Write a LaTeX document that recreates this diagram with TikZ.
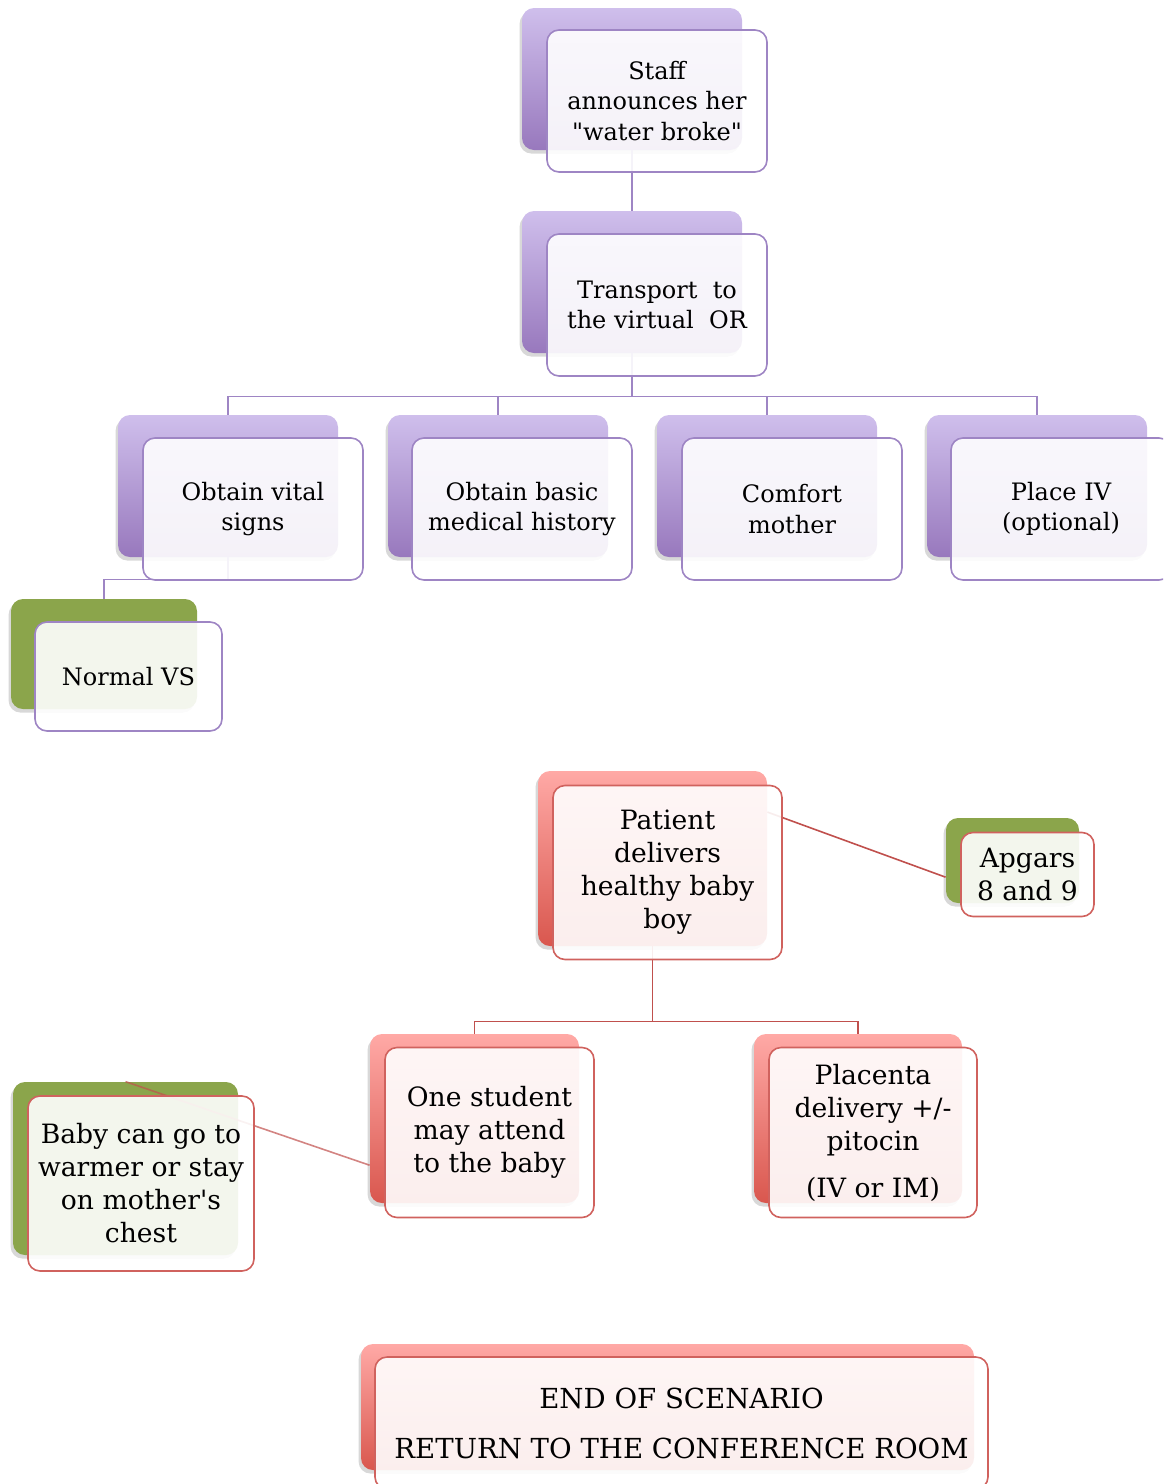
\documentclass[tikz,border=0pt]{standalone}
\usepackage{fontspec}
\setmainfont{DejaVu Serif}[Ligatures=TeXOff]
\usetikzlibrary{calc,shadows}

\definecolor{pTop}{HTML}{CFBFEC}
\definecolor{pBot}{HTML}{9878BD}
\definecolor{pLine}{HTML}{9E85C4}
\definecolor{rTop}{HTML}{FFA9A6}
\definecolor{rBot}{HTML}{D9574E}
\definecolor{rLine}{HTML}{D0625E}
\definecolor{rWire}{HTML}{C0504D}
\definecolor{gFill}{HTML}{8BA54B}

\newcommand{\topfont}{\fontsize{12}{15.25}\selectfont}
\newcommand{\lowfont}{\fontsize{13.3}{16.5}\selectfont}
\newcommand{\lastfont}{\fontsize{13.8}{17}\selectfont}

\tikzset{
  backbox/.style={rounded corners=6pt, draw=none, inner sep=0pt,
    drop shadow={shadow xshift=-1.2pt, shadow yshift=-1.8pt, opacity=.22, fill=black!70}},
  pback/.style={backbox, top color=pTop, bottom color=pBot},
  rback/.style={backbox, top color=rTop, bottom color=rBot},
  gback/.style={backbox, fill=gFill},
  frontbox/.style={rounded corners=6pt, fill=white, fill opacity=.9, text opacity=1,
    line width=.8pt, align=center, inner sep=0pt},
  pfront/.style={frontbox, draw=pLine, font=\topfont},
  rfront/.style={frontbox, draw=rLine, font=\lowfont},
  pwire/.style={draw=pLine, line width=.8pt},
  rwire/.style={draw=rWire, line width=.8pt},
  tall/.style={minimum width=110pt, minimum height=71pt}
}

\begin{document}
\begin{tikzpicture}[x=0.5pt, y=-0.5pt]
\useasboundingbox (0,0) rectangle (1163,1484);
\clip (0,0) rectangle (1163,1484);

% back boxes, upper part
\node[pback, tall] (staffb) at (632,79) {};
\node[pback, tall] (transb) at (632,282) {};
\node[pback, tall] (vitalb) at (228,486) {};
\node[pback, tall] (histb) at (498,486) {};
\node[pback, tall] (comfb) at (767,486) {};
\node[pback, tall] (ivb) at (1037,486) {};
\node[gback, minimum width=93pt, minimum height=55pt] (normb) at (104,654) {};

% back boxes, lower part
\node[rback, minimum width=114.5pt, minimum height=87.5pt] (patb) at (652.5,858.5) {};
\node[gback, minimum width=66.5pt, minimum height=42.5pt] (apgb) at (1012.5,860.5) {};
\node[rback, minimum width=104.5pt, minimum height=84.5pt] (studb) at (474.5,1118.5) {};
\node[rback, minimum width=104pt, minimum height=84.5pt] (placb) at (858,1118.5) {};
\node[gback, minimum width=112.5pt, minimum height=86.5pt] (babyb) at (125.5,1168.5) {};
\node[rback, minimum width=306.5pt, minimum height=63pt] (endb) at (667.5,1407) {};

% connectors
\draw[pwire] (staffb.south) -- (transb.north);
\draw[pwire] (transb.south) -- ++(0,43) -| (vitalb.north);
\draw[pwire] (transb.south) -- ++(0,43) -| (histb.north);
\draw[pwire] (transb.south) -- ++(0,43) -| (comfb.north);
\draw[pwire] (transb.south) -- ++(0,43) -| (ivb.north);
\draw[pwire] (vitalb.south) -- ++(0,22) -| (normb.north);
\draw[rwire] (patb.south) -- ++(0,75) -| (studb.north);
\draw[rwire] (patb.south) -- ++(0,75) -| (placb.north);
\draw[rwire] (patb.22) -- (apgb.194.7);
\draw[rwire, draw opacity=.7] (studb.204.9) -- (babyb.north);

% front boxes with the texts
\node[pfront, tall] (staff) at ($(staffb)+(25,22)$) {Staff\\announces her\\"water broke"};
\node[pfront, tall] (trans) at ($(transb)+(25,23)$) {Transport~ to\\the virtual~ OR};
\node[pfront, tall] (vital) at ($(vitalb)+(25,23)$) {Obtain vital\\signs};
\node[pfront, tall] (hist) at ($(histb)+(24,23)$) {Obtain basic\\medical history};
\node[pfront, tall] (comf) at ($(comfb)+(25,23)$) {Comfort\\mother};
\node[pfront, tall] (iv) at ($(ivb)+(24,23)$) {Place IV\\(optional)};
\node[pfront, minimum width=93.5pt, minimum height=54.5pt] (norm) at ($(normb)+(24.5,22.5)$) {Normal VS};

\node[rfront, minimum width=114.5pt, minimum height=87pt] (pat) at ($(patb)+(15,14)$) {Patient\\delivers\\healthy baby\\boy};
\node[rfront, minimum width=66.5pt, minimum height=42pt] (apg) at ($(apgb)+(15,14)$) {Apgars\\8 and 9};
\node[rfront, minimum width=104.5pt, minimum height=85pt] (stud) at ($(studb)+(15,14)$) {One student\\may attend\\to the baby};
\node[rfront, minimum width=104pt, minimum height=85pt] (plac) at ($(placb)+(15,14)$) {Placenta\\delivery +/-\\pitocin\\[7pt](IV or IM)};
\node[rfront, minimum width=113pt, minimum height=87.5pt] (baby) at ($(babyb)+(15.5,15)$) {Baby can go to\\warmer or stay\\on mother's\\chest};
\node[rfront, font=\lastfont, minimum width=306.5pt, minimum height=66pt] (endf) at ($(endb)+(14,16)$) {END OF SCENARIO\\[8pt]RETURN TO THE CONFERENCE ROOM};
\end{tikzpicture}
\end{document}
